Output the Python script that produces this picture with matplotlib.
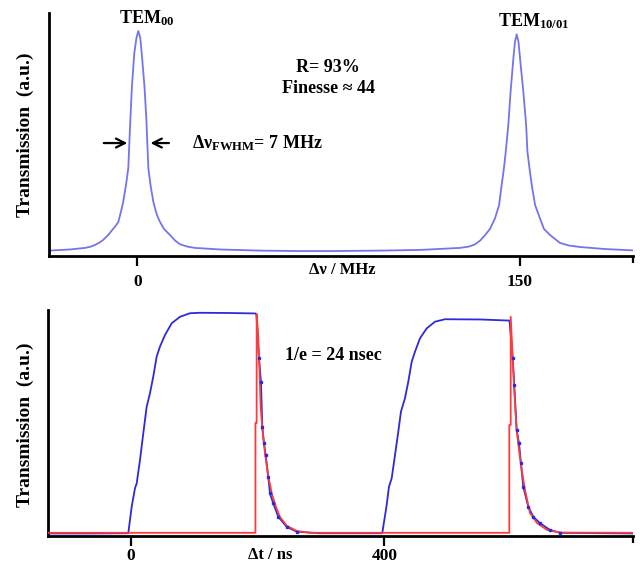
import matplotlib
matplotlib.use("Agg")
import matplotlib.pyplot as plt

# ---------------- data ----------------
# Top panel: cavity transmission vs. frequency detuning (MHz, a.u.)
freq_mhz = [-34.7, -26.5, -20.6, -18.5, -16.7, -15.0, -13.5, -11.5, -9.6, -8.5,
            -7.5, -6.5, -5.6, -4.5, -3.6, -3.2, -2.8, -2.2, -1.25, -0.4,
            0.3, 1.1, 1.65, 2.75, 3.5, 3.85, 4.25, 5.1, 6.2, 7.25,
            8.0, 8.8, 10.4, 12.75, 14.8, 16.7, 19.5, 22.5, 32.4, 48.0,
            63.7, 75.5, 95.0, 110.8, 126.5, 130.0, 132.4, 134.5, 136.3, 138.2,
            140.2, 141.8, 142.8, 143.7, 144.4, 145.4, 146.3, 147.4, 148.0, 148.7,
            149.4, 150.0, 151.3, 152.4, 152.9, 153.7, 154.6, 155.9, 157.8, 159.4,
            161.8, 165.7, 169.0, 173.5, 183.3, 194.3]
trans_freq = [0.024, 0.029, 0.036, 0.041, 0.049, 0.059, 0.071, 0.093, 0.120, 0.135,
              0.152, 0.196, 0.241, 0.316, 0.391, 0.502, 0.604, 0.751, 0.902, 0.969,
              1.000, 0.969, 0.902, 0.751, 0.604, 0.502, 0.391, 0.316, 0.241, 0.196,
              0.172, 0.152, 0.120, 0.093, 0.068, 0.052, 0.042, 0.036, 0.029, 0.024,
              0.022, 0.022, 0.024, 0.027, 0.036, 0.042, 0.052, 0.070, 0.093, 0.120,
              0.168, 0.227, 0.316, 0.391, 0.464, 0.582, 0.730, 0.879, 0.951, 0.985,
              0.951, 0.879, 0.730, 0.582, 0.464, 0.391, 0.316, 0.227, 0.168, 0.120,
              0.093, 0.058, 0.047, 0.040, 0.031, 0.025]
freq_ticks = [0, 150]
freq_ticklabels = ["0", "150"]

# Bottom panel: measured transmission vs. time (ns, a.u.)
time_ns = [-130.4, -64.2, -3.8, 1.6, 6.8, 9.5, 14.7, 19.9, 25.2, 30.4,
           35.6, 41.0, 46.2, 54.1, 64.7, 77.8, 93.5, 109.3, 156.6, 196.8,
           198.4, 202.4, 205.5, 207.6, 210.3, 212.9, 217.0, 219.7, 224.9, 232.8,
           246.1, 261.8, 298.6, 396.8, 403.8, 407.4, 411.7, 416.9, 422.1, 426.3,
           432.6, 437.9, 443.2, 448.4, 456.3, 466.9, 480.0, 495.7, 550.9, 597.5,
           602.5, 605.0, 608.8, 612.5, 615.6, 619.2, 627.1, 635.0, 645.6, 661.4,
           677.1, 792.3]
trans_time = [0.010, 0.010, 0.011, 0.130, 0.213, 0.235, 0.340, 0.460, 0.579, 0.639,
              0.714, 0.804, 0.849, 0.901, 0.954, 0.983, 0.999, 1.001, 1.000, 0.998,
              0.991, 0.797, 0.692, 0.489, 0.415, 0.362, 0.265, 0.190, 0.145, 0.085,
              0.040, 0.018, 0.011, 0.011, 0.138, 0.220, 0.258, 0.362, 0.467, 0.557,
              0.617, 0.692, 0.781, 0.826, 0.886, 0.931, 0.961, 0.972, 0.971, 0.966,
              0.797, 0.677, 0.475, 0.415, 0.325, 0.220, 0.130, 0.085, 0.056, 0.026,
              0.013, 0.010]
decay_marker_idx = list(range(21, 32)) + list(range(50, 61))

# Exponential-decay fit (red)
fit_time = [-130.4, 196.8, 196.8, 198.7, 198.7, 200.8, 203.2, 205.0, 207.9, 211.8,
            216.6, 222.4, 229.2, 235.5, 246.5, 262.3, 282.8, 597.2, 597.2, 599.4,
            599.4, 602.5, 605.4, 608.8, 612.5, 616.7, 621.9, 629.8, 640.9, 656.6,
            677.1, 792.3]
fit_trans = [0.013, 0.013, 0.506, 0.506, 0.996, 0.910, 0.744, 0.578, 0.475, 0.371,
             0.273, 0.192, 0.129, 0.084, 0.044, 0.021, 0.013, 0.013, 0.497, 0.497,
             0.983, 0.802, 0.632, 0.475, 0.386, 0.296, 0.206, 0.102, 0.057, 0.026,
             0.014, 0.013]
time_ticks = [0, 400]
time_ticklabels = ["0", "400"]

# ---------------- style ----------------
plt.rcParams["font.family"] = ["Liberation Serif", "DejaVu Serif"]
plt.rcParams["font.weight"] = "bold"
plt.rcParams["mathtext.fontset"] = "custom"
plt.rcParams["mathtext.rm"] = "Liberation Serif:bold"
plt.rcParams["mathtext.bf"] = "Liberation Serif:bold"
plt.rcParams["mathtext.it"] = "Liberation Serif:bold:italic"

W, H = 640, 565
fig = plt.figure(figsize=(6.4, 5.65), dpi=100)

def fx(px):
    return px / W

def fy(py):
    return 1 - py / H

ax1 = fig.add_axes([fx(49), fy(256), fx(633) - fx(49), fy(13) - fy(256)])
ax2 = fig.add_axes([fx(48), fy(535.7), fx(633) - fx(48), fy(310) - fy(535.7)])

for ax, pad in ((ax1, 6), (ax2, 2)):
    for s in ("top", "right"):
        ax.spines[s].set_visible(False)
    for s in ("left", "bottom"):
        ax.spines[s].set_linewidth(2.0)
        ax.spines[s].set_color("black")
    ax.set_yticks([])
    ax.tick_params(axis="x", direction="out", length=7, width=1.6, pad=pad,
                   labelsize=12.5)
    ax.tick_params(axis="x", which="minor", direction="out", length=5, width=1.6)
    ax.set_facecolor("none")

# ---- top panel ----
ax1.plot(freq_mhz, trans_freq, color="#7474ee", lw=1.3)
ax1.set_xlim(-34.7, 194.3)
ax1.set_ylim(0, 1.08)
ax1.set_xticks(freq_ticks)
ax1.set_xticklabels(freq_ticklabels, fontweight="bold")
ax1.set_xticks([194.3], minor=True)

ax1.text(3.6, 1.035, r"TEM$_{\mathrm{00}}$", ha="center", va="baseline",
         fontsize=13, fontweight="bold")
ax1.text(155.5, 1.02, r"TEM$_{\mathrm{10/01}}$", ha="center", va="baseline",
         fontsize=13, fontweight="bold")
ax1.text(74.5, 0.818, "R= 93%", ha="center", va="baseline", fontsize=13,
         fontweight="bold")
ax1.text(75, 0.724, "Finesse ≈ 44", ha="center", va="baseline", fontsize=13,
         fontweight="bold")
ax1.text(21.3, 0.48, r"Δν$_{\mathrm{FWHM}}$= 7 MHz", ha="left", va="baseline",
         fontsize=13, fontweight="bold")
ax1.annotate("", xy=(-2.9, 0.502), xytext=(-14.3, 0.502),
             arrowprops=dict(arrowstyle="->", lw=1.6, color="black",
                             mutation_scale=16))
ax1.annotate("", xy=(4.0, 0.502), xytext=(13.4, 0.502),
             arrowprops=dict(arrowstyle="->", lw=1.6, color="black",
                             mutation_scale=16))

# ---- bottom panel ----
ax2.plot(fit_time, fit_trans, color="#ff3a3a", lw=1.3, zorder=3)
ax2.plot(time_ns, trans_time, color="#2b2bdd", lw=1.3, zorder=2)
ax2.plot([time_ns[i] for i in decay_marker_idx],
         [trans_time[i] for i in decay_marker_idx],
         ls="none", marker="s", ms=1.5, color="#2b2bdd", zorder=4)
ax2.set_xlim(-130.4, 792.3)
ax2.set_ylim(0, 1.0135)
ax2.set_xticks(time_ticks)
ax2.set_xticklabels(time_ticklabels, fontweight="bold")
ax2.set_xticks([792.3], minor=True)

ax2.text(244, 0.788, "1/e = 24 nsec", ha="left", va="baseline", fontsize=13,
         fontweight="bold")

# axis labels
fig.text(fx(342), fy(270), "Δν / MHz", ha="center", va="center", fontsize=12,
         fontweight="bold")
fig.text(fx(270), fy(555), "Δt / ns", ha="center", va="center", fontsize=12,
         fontweight="bold")
fig.text(fx(25), fy(135), "Transmission  (a.u.)", rotation=90, ha="center",
         va="center", fontsize=14, fontweight="bold")
fig.text(fx(25), fy(425), "Transmission  (a.u.)", rotation=90, ha="center",
         va="center", fontsize=14, fontweight="bold")

fig.savefig("out.png", dpi=100)
